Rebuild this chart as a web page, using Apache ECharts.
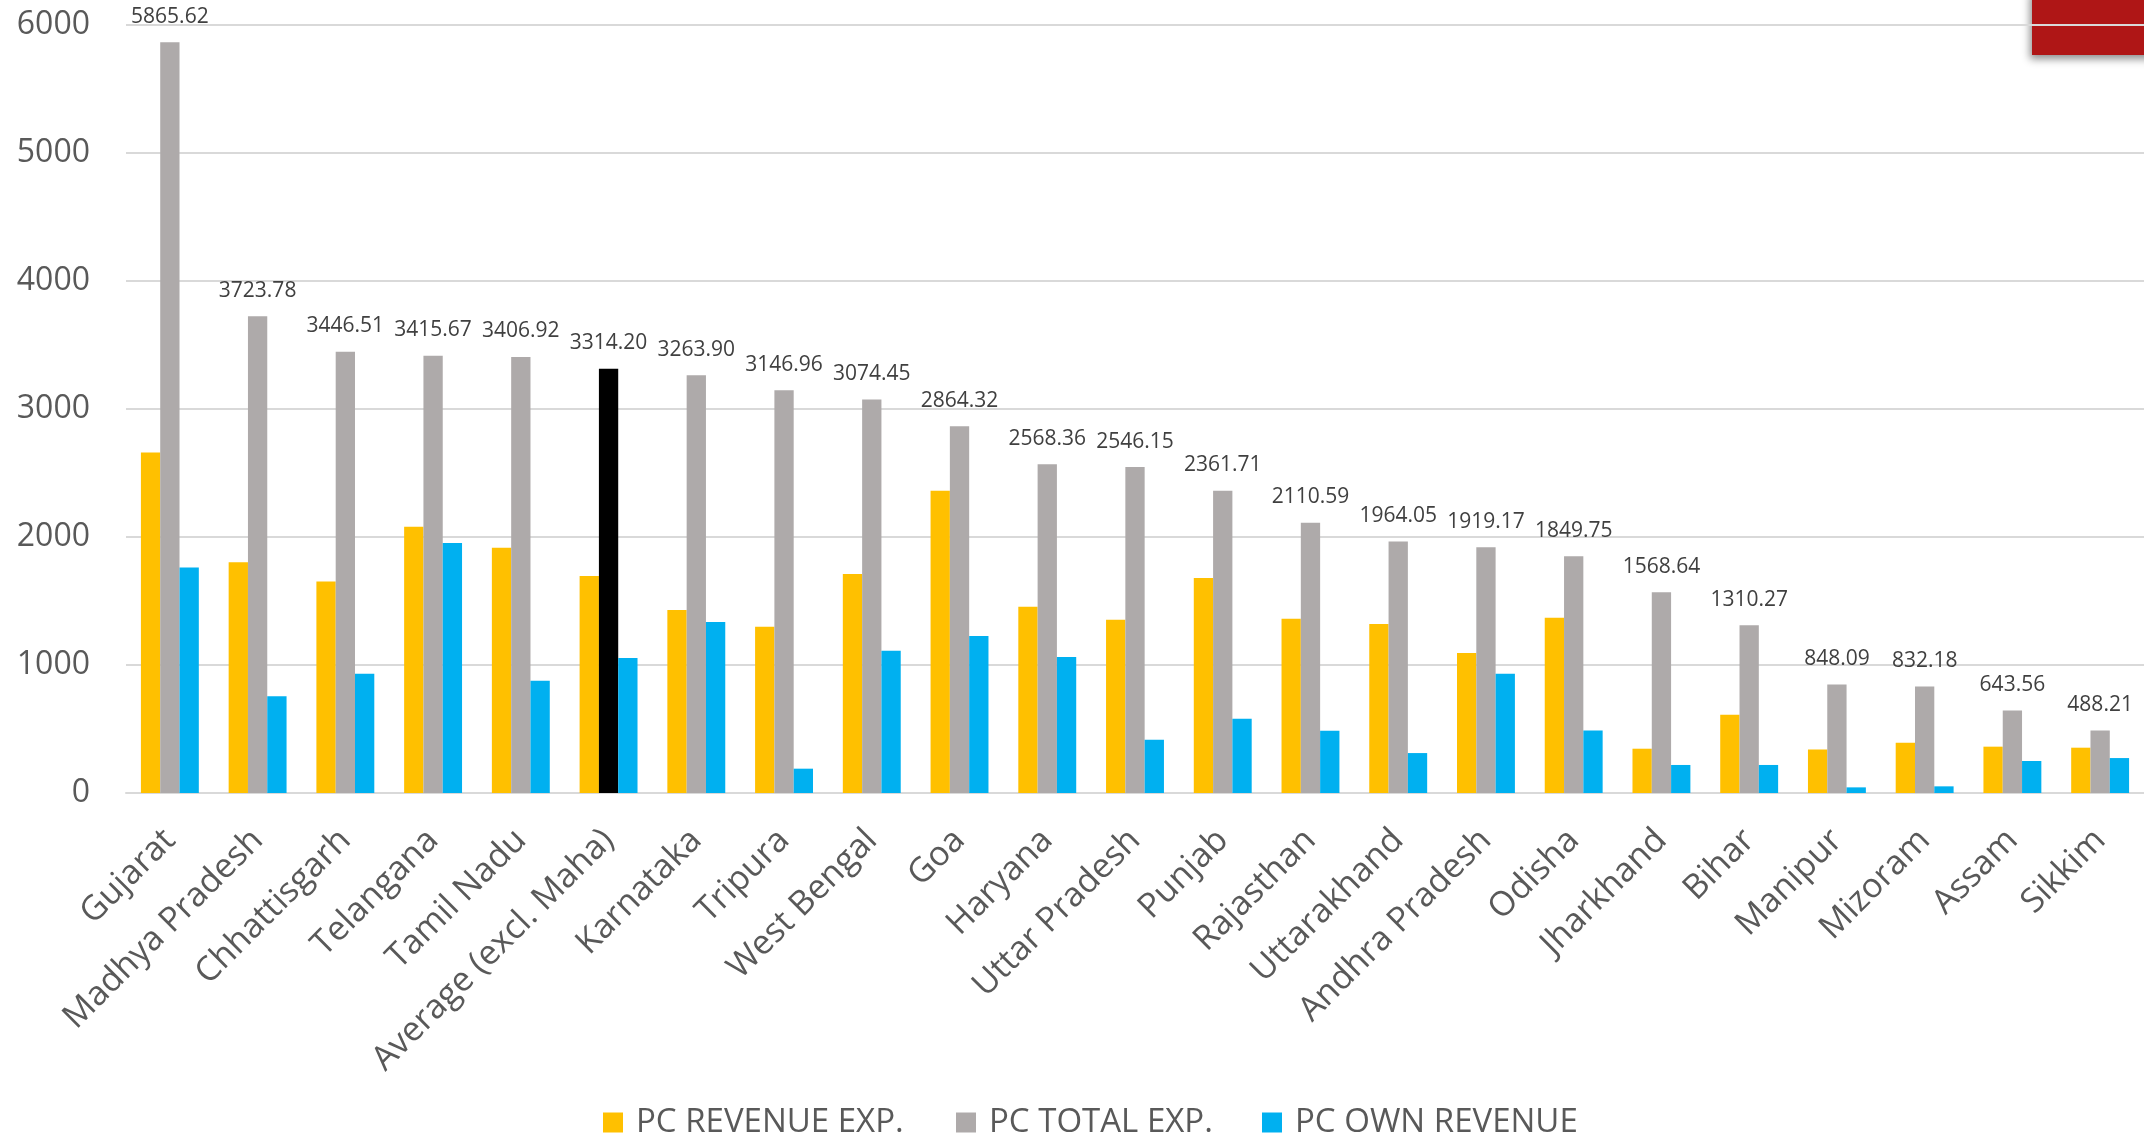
<!DOCTYPE html>
<html>
<head>
<meta charset="utf-8">
<script src="https://cdn.jsdelivr.net/npm/echarts@6/dist/echarts.min.js"></script>
<style>
html,body{margin:0;padding:0;background:#fff;}
#chart{width:2144px;height:1139px;}
</style>
</head>
<body>
<div id="chart"></div>
<script>
const categories = ["Gujarat","Madhya Pradesh","Chhattisgarh","Telangana","Tamil Nadu","Average (excl. Maha)","Karnataka","Tripura","West Bengal","Goa","Haryana","Uttar Pradesh","Punjab","Rajasthan","Uttarakhand","Andhra Pradesh","Odisha","Jharkhand","Bihar","Manipur","Mizoram","Assam","Sikkim"];
const revenueExp = [2660,1802,1653,2080,1916,1695,1430,1299,1711,2361,1455,1354,1680,1362,1320,1094,1370,346,612,339,393,362,354];
const totalExp = [5865.62,3723.78,3446.51,3415.67,3406.92,3314.20,3263.90,3146.96,3074.45,2864.32,2568.36,2546.15,2361.71,2110.59,1964.05,1919.17,1849.75,1568.64,1310.27,848.09,832.18,643.56,488.21];
const ownRevenue = [1762,755,932,1953,877,1055,1336,190,1112,1227,1063,416,580,487,312,932,489,219,219,44,52,250,273];
const seriesNames = ["PC REVENUE EXP.","PC TOTAL EXP.","PC OWN REVENUE"];
const yTicks = {min:0, max:6000, interval:1000};
const highlightCategory = "Average (excl. Maha)";

const chart = echarts.init(document.getElementById('chart'));
const font = "'Open Sans', sans-serif";
const totalData = totalExp.map((v,i)=> categories[i]===highlightCategory ? {value:v, itemStyle:{color:'#000000'}} : v);
const legendLefts = [603, 956, 1262];
const legends = seriesNames.map((n,i)=>({
  data:[n], icon:'rect', itemWidth:20, itemHeight:20,
  left:legendLefts[i], top:1106, padding:0,
  textStyle:{fontSize:33,color:'#595959',fontFamily:font,padding:[0,0,0,8]}
}));

chart.setOption({
  animation:false,
  backgroundColor:'#ffffff',
  textStyle:{fontFamily:font},
  grid:{left:126,right:0,top:25,bottom:346,containLabel:false},
  legend:legends,
  xAxis:{
    type:'category', data:categories,
    axisLine:{lineStyle:{color:'#D9D9D9',width:2}},
    axisTick:{show:false},
    axisLabel:{rotate:45,interval:0,fontSize:34,color:'#595959',margin:42,
      align:'right',verticalAlign:'middle',fontFamily:font}
  },
  yAxis:{
    type:'value', min:yTicks.min, max:yTicks.max, interval:yTicks.interval,
    axisLine:{show:false}, axisTick:{show:false},
    splitLine:{lineStyle:{color:'#D9D9D9',width:2}},
    axisLabel:{fontSize:32,color:'#595959',margin:36,fontFamily:font,formatter:v=>String(v),padding:[4,0,0,0]}
  },
  graphic:[{
    type:'rect', z:-10, zlevel:0,
    shape:{x:2032,y:-10,width:130,height:65},
    style:{fill:'#AF1616',shadowBlur:8,shadowOffsetX:-2,shadowOffsetY:4,shadowColor:'rgba(0,0,0,0.45)'}
  }],
  series:[
    {name:seriesNames[0],type:'bar',data:revenueExp,itemStyle:{color:'#FFC000'},barGap:'0%',barCategoryGap:'34%'},
    {name:seriesNames[1],type:'bar',data:totalData,itemStyle:{color:'#AEAAAA'},barGap:'0%',barCategoryGap:'34%',
      label:{show:true,position:'top',distance:15,fontSize:21,color:'#404040',fontFamily:font,
        formatter:p=>Number(p.value).toFixed(2)}},
    {name:seriesNames[2],type:'bar',data:ownRevenue,itemStyle:{color:'#00B0F0'},barGap:'0%',barCategoryGap:'34%'}
  ]
});
</script>
</body>
</html>
